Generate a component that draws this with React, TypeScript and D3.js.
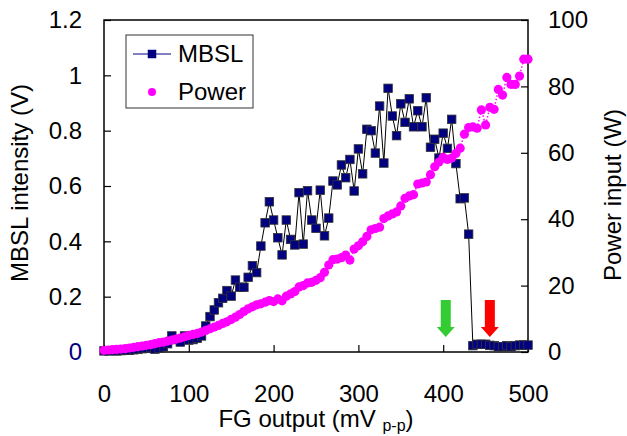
import React, { useEffect, useRef } from 'react';
import * as d3 from 'd3';

// FG output (mV p-p), one reading every 5 mV
const fgOutput = [
  0, 5, 10, 15, 20, 25, 30, 35, 40, 45, 50, 55, 60, 65, 70, 75, 80, 85, 90, 95,
  100, 105, 110, 115, 120, 125, 130, 135, 140, 145, 150, 155, 160, 165, 170, 175, 180, 185, 190, 195,
  200, 205, 210, 215, 220, 225, 230, 235, 240, 245, 250, 255, 260, 265, 270, 275, 280, 285, 290, 295,
  300, 305, 310, 315, 320, 325, 330, 335, 340, 345, 350, 355, 360, 365, 370, 375, 380, 385, 390, 395,
  400, 405, 410, 415, 420, 425, 430, 435, 440, 445, 450, 455, 460, 465, 470, 475, 480, 485, 490, 495,
  500,
];

// MBSL intensity (V)
const mbsl = [
  0.004, 0.004, 0.005, 0.004, 0.005, 0.006, 0.006, 0.008, 0.010, 0.012,
  0.014, 0.016, 0.010, 0.014, 0.019, 0.030, 0.058, 0.045, 0.036, 0.058,
  0.043, 0.045, 0.050, 0.058, 0.094, 0.128, 0.152, 0.178, 0.194, 0.222,
  0.202, 0.260, 0.234, 0.234, 0.270, 0.312, 0.287, 0.383, 0.467, 0.543,
  0.477, 0.413, 0.351, 0.477, 0.407, 0.387, 0.576, 0.390, 0.583, 0.477,
  0.447, 0.585, 0.420, 0.484, 0.618, 0.604, 0.676, 0.630, 0.696, 0.582,
  0.734, 0.644, 0.805, 0.800, 0.719, 0.889, 0.683, 0.953, 0.853, 0.782,
  0.897, 0.830, 0.915, 0.814, 0.872, 0.814, 0.919, 0.740, 0.769, 0.701,
  0.791, 0.736, 0.841, 0.681, 0.554, 0.557, 0.426, 0.023, 0.028, 0.028,
  0.028, 0.024, 0.023, 0.019, 0.019, 0.023, 0.019, 0.023, 0.025, 0.025,
  0.025,
];

// Power input (W)
const power = [
  0.5, 0.6, 0.7, 0.8, 0.9, 1.0, 1.2, 1.4, 1.6, 1.8,
  2.0, 2.2, 2.5, 2.8, 3.0, 3.3, 3.6, 3.9, 4.2, 4.6,
  5.0, 5.3, 5.6, 6.0, 6.5, 7.0, 7.5, 8.0, 8.6, 9.1,
  9.8, 10.5, 11.3, 12.2, 13.0, 13.6, 14.2, 14.5, 15.0, 15.5,
  15.2, 16.0, 15.4, 16.8, 17.5, 18.2, 19.6, 20.0, 20.8, 21.0,
  21.6, 22.4, 24.0, 26.2, 27.8, 28.0, 28.4, 29.2, 27.7, 31.0,
  32.0, 33.2, 34.8, 36.8, 37.2, 37.6, 40.2, 41.0, 41.6, 42.2,
  44.0, 46.3, 47.0, 47.4, 50.6, 50.9, 51.2, 53.4, 55.8, 57.2,
  58.6, 58.0, 58.4, 59.8, 61.4, 65.6, 67.6, 67.8, 67.4, 72.9,
  68.4, 73.7, 73.1, 79.1, 77.4, 82.7, 80.6, 80.6, 83.1, 88.2,
  88.2,
];

const xTicks = [0, 100, 200, 300, 400, 500];
const leftTicks = [0, 0.2, 0.4, 0.6, 0.8, 1, 1.2];
const rightTicks = [0, 20, 40, 60, 80, 100];

// arrows marking the two FG outputs
const arrowAt = [403, 455];
const arrowColors = ['#33cc33', '#ff0000'];

const FONT = '"Liberation Sans", Arial, sans-serif';

export default function App() {
  const svgRef = useRef<SVGSVGElement>(null);

  useEffect(() => {
    const width = 627;
    const height = 436;
    const m = { left: 104, right: 99, top: 20, bottom: 84 };

    const svg = d3.select(svgRef.current);
    svg.selectAll('*').remove();

    const x = d3.scaleLinear().domain([0, 500]).range([m.left, width - m.right]);
    const yL = d3.scaleLinear().domain([0, 1.2]).range([height - m.bottom, m.top]);
    const yR = d3.scaleLinear().domain([0, 100]).range([height - m.bottom, m.top]);

    svg.append('rect').attr('width', width).attr('height', height).attr('fill', '#fff');

    // frame
    svg.append('rect')
      .attr('x', m.left)
      .attr('y', m.top)
      .attr('width', width - m.left - m.right)
      .attr('height', height - m.top - m.bottom)
      .attr('fill', 'none')
      .attr('stroke', '#000')
      .attr('stroke-width', 1.5);

    const styleAxis = (g) => {
      g.select('.domain').remove();
      g.selectAll('line').attr('stroke', '#000').attr('stroke-width', 1.2);
      g.selectAll('text').attr('font-family', FONT).attr('font-size', 24).attr('fill', '#000');
    };

    svg.append('g')
      .attr('transform', `translate(0,${height - m.bottom})`)
      .call(d3.axisBottom(x).tickValues(xTicks).tickSizeInner(-7).tickSizeOuter(0).tickPadding(33))
      .call(styleAxis);

    const gl = svg.append('g')
      .attr('transform', `translate(${m.left},0)`)
      .call(d3.axisLeft(yL).tickValues(leftTicks).tickFormat(d3.format('~g')).tickSizeInner(-7).tickSizeOuter(0).tickPadding(22))
      .call(styleAxis);
    gl.selectAll('text').filter((d) => d === 0).attr('fill', '#000080');

    svg.append('g')
      .attr('transform', `translate(${width - m.right},0)`)
      .call(d3.axisRight(yR).tickValues(rightTicks).tickSizeInner(-7).tickSizeOuter(0).tickPadding(20))
      .call(styleAxis);

    // axis titles
    const xt = svg.append('text')
      .attr('x', (m.left + width - m.right) / 2)
      .attr('y', 427)
      .attr('text-anchor', 'middle')
      .attr('font-family', FONT)
      .attr('font-size', 24);
    xt.append('tspan').text('FG output (mV ');
    xt.append('tspan').attr('font-size', 16).attr('dy', 4).text('p-p');
    xt.append('tspan').attr('dy', -4).text(')');

    svg.append('text')
      .attr('transform', `translate(28,${(m.top + height - m.bottom) / 2 - 3}) rotate(-90)`)
      .attr('text-anchor', 'middle')
      .attr('font-family', FONT)
      .attr('font-size', 24)
      .text('MBSL intensity (V)');

    svg.append('text')
      .attr('transform', `translate(621,${(m.top + height - m.bottom) / 2 + 9}) rotate(-90)`)
      .attr('text-anchor', 'middle')
      .attr('font-family', FONT)
      .attr('font-size', 24)
      .text('Power input (W)');

    // MBSL line + squares
    const mbslLine = d3.line<number>()
      .x((d, i) => x(fgOutput[i]))
      .y((d) => yL(d));

    svg.append('path')
      .attr('d', mbslLine(mbsl))
      .attr('fill', 'none')
      .attr('stroke', '#000')
      .attr('stroke-width', 1);

    const sq = 8.5;
    svg.append('g')
      .selectAll('rect')
      .data(mbsl)
      .enter()
      .append('rect')
      .attr('x', (d, i) => x(fgOutput[i]) - sq / 2)
      .attr('y', (d) => yL(d) - sq / 2)
      .attr('width', sq)
      .attr('height', sq)
      .attr('fill', '#000080')
      .attr('stroke', '#333')
      .attr('stroke-width', 0.8);

    // Power dotted line + dots
    const powerLine = d3.line<number>()
      .x((d, i) => x(fgOutput[i]))
      .y((d) => yR(d));

    svg.append('path')
      .attr('d', powerLine(power))
      .attr('fill', 'none')
      .attr('stroke', '#ff00ff')
      .attr('stroke-width', 1.5)
      .attr('stroke-dasharray', '1.5,2');

    svg.append('g')
      .selectAll('circle')
      .data(power)
      .enter()
      .append('circle')
      .attr('cx', (d, i) => x(fgOutput[i]))
      .attr('cy', (d) => yR(d))
      .attr('r', 4.6)
      .attr('fill', '#ff00ff');

    // arrows
    const top = yL(0.188);
    const bot = yL(0.054);
    arrowAt.forEach((v, i) => {
      const cx = x(v);
      const headTop = bot - 10;
      const p = d3.path();
      p.moveTo(cx - 5, top);
      p.lineTo(cx + 5, top);
      p.lineTo(cx + 5, headTop);
      p.lineTo(cx + 9, headTop);
      p.lineTo(cx, bot);
      p.lineTo(cx - 9, headTop);
      p.lineTo(cx - 5, headTop);
      p.closePath();
      svg.append('path').attr('d', p.toString()).attr('fill', arrowColors[i]);
    });

    // legend
    const lg = svg.append('g');
    lg.append('rect')
      .attr('x', 126)
      .attr('y', 35)
      .attr('width', 127)
      .attr('height', 73)
      .attr('fill', '#fff')
      .attr('stroke', '#333')
      .attr('stroke-width', 1);
    lg.append('line')
      .attr('x1', 133).attr('x2', 171)
      .attr('y1', 54).attr('y2', 54)
      .attr('stroke', '#000080')
      .attr('stroke-width', 1);
    lg.append('rect')
      .attr('x', 152 - sq / 2).attr('y', 54 - sq / 2)
      .attr('width', sq).attr('height', sq)
      .attr('fill', '#000080');
    lg.append('circle').attr('cx', 152).attr('cy', 92).attr('r', 4).attr('fill', '#ff00ff');
    lg.append('text')
      .attr('x', 178).attr('y', 54).attr('dy', '0.35em')
      .attr('font-family', FONT).attr('font-size', 24)
      .text('MBSL');
    lg.append('text')
      .attr('x', 178).attr('y', 92).attr('dy', '0.35em')
      .attr('font-family', FONT).attr('font-size', 24)
      .text('Power');
  }, []);

  return (
    <svg
      ref={svgRef}
      width={627}
      height={436}
      style={{ position: 'absolute', left: 0, top: 0, display: 'block' }}
    />
  );
}
